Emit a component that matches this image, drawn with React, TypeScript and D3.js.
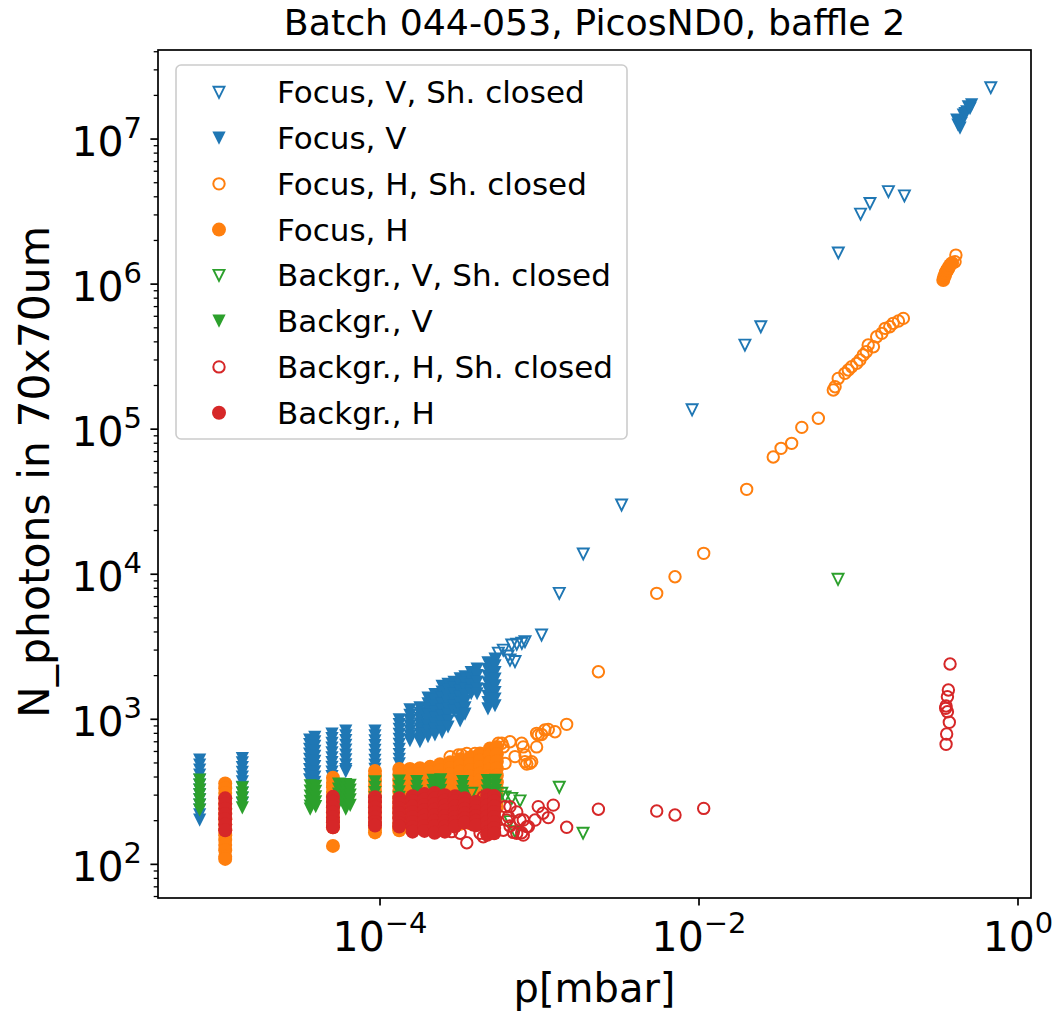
import * as d3 from "d3";

// ---- data: [pressure mbar, N photons]
type Col = [number, number[]];

// Focus, V, Sh. closed (open blue triangles)
const focusVClosed: [number, number][] = [
  [5.52e-4, 2860], [5.93e-4, 3000], [6.35e-4, 2730], [6.7e-4, 3250], [7.2e-4, 3290],
  [7.75e-4, 3340], [8.11e-4, 3430], [7.02e-4, 2500], [6.53e-4, 2560],
  [1.03e-3, 3810], [1.33e-3, 7380], [1.88e-3, 13800], [3.27e-3, 30000], [9.05e-3, 136000],
  [0.0194, 380000], [0.0244, 508000], [0.0747, 1.64e6], [0.103, 3.04e6], [0.118, 3.6e6],
  [0.154, 4.34e6], [0.194, 4.06e6], [0.675, 2.26e7],
];

// Focus, V (filled blue triangles), columns of repeated shots at one pressure
const focusVCols: Col[] = [
  [7.4e-6, [524, 484, 447, 413, 381, 352, 325, 301, 278, 256, 237, 219, 202]],
  [1.37e-5, [535, 500, 465, 430, 400, 370, 340, 310, 285, 262]],
  [3.62e-5, [720, 670, 620, 575, 530, 490, 450, 415, 382]],
  [3.9e-5, [750, 700, 650, 600, 555, 512, 472, 435, 400, 368]],
  [5.0e-5, [790, 735, 682, 632, 586, 543, 503, 466, 432, 402]],
  [6.1e-5, [830, 770, 712, 660, 612, 567, 525, 486, 450, 436]],
  [9.3e-5, [830, 768, 710, 658, 610, 565, 522, 484, 452]],
  [1.32e-4, [990, 920, 852, 788, 728, 672, 620, 572, 530, 492]],
  [1.54e-4, [1160, 1065, 980, 902, 832, 770, 712]],
  [1.78e-4, [1200, 1100, 1010, 930, 858, 792, 734, 700]],
  [2.0e-4, [1400, 1280, 1170, 1070, 980, 900, 825, 760]],
  [2.21e-4, [1480, 1350, 1230, 1120, 1020, 932, 852, 782]],
  [2.45e-4, [1690, 1540, 1400, 1272, 1155, 1052, 960, 880, 812]],
  [2.67e-4, [1740, 1582, 1435, 1302, 1182, 1072, 972, 885]],
  [2.91e-4, [1800, 1640, 1490, 1352, 1232, 1140]],
  [3.18e-4, [1900, 1722, 1562, 1420, 1290, 1172, 1062, 975]],
  [3.41e-4, [1960, 1780, 1612, 1462, 1322, 1200, 1085]],
  [3.73e-4, [2100, 1900, 1722, 1562, 1500]],
  [4.06e-4, [2220, 2000, 1802, 1622, 1500]],
  [4.75e-4, [2450, 2200, 1980, 1782, 1602, 1442, 1302, 1180]],
  [5.26e-4, [2600, 2340, 2100, 1890, 1700, 1530, 1380, 1240]],
  [0.413, [1.35e7]], [0.42, [1.25e7]], [0.433, [1.19e7]], [0.44, [1.28e7]],
  [0.454, [1.46e7]], [0.465, [1.5e7]], [0.477, [1.54e7]], [0.488, [1.67e7]],
  [0.5, [1.62e7]], [0.512, [1.72e7]],
];

// Focus, H, Sh. closed (open orange circles)
const focusHClosed: [number, number][] = [
  [2.75e-4, 552], [3.1e-4, 567], [3.25e-4, 567], [3.5e-4, 582], [3.67e-4, 402],
  [3.94e-4, 471], [3.94e-4, 582], [4.13e-4, 567], [4.24e-4, 426], [4.44e-4, 567],
  [5.52e-4, 683], [5.8e-4, 683], [5.93e-4, 645], [6.53e-4, 700], [6.08e-4, 497],
  [7.02e-4, 553], [7.73e-4, 683], [7.91e-4, 645], [8.11e-4, 510], [8.11e-4, 567],
  [8.72e-4, 497], [8.93e-4, 510], [8.32e-4, 491], [9.59e-4, 645], [9.82e-4, 779],
  [9.59e-4, 800], [1.03e-3, 786], [1.08e-3, 844], [1.135e-3, 852], [1.25e-3, 820],
  [1.48e-3, 923], [2.34e-3, 2128], [5.43e-3, 7385], [7.07e-3, 9610], [0.0107, 13930],
  [0.0199, 38470], [0.0292, 64260], [0.0327, 73770], [0.0381, 79850], [0.0441, 102900],
  [0.056, 118800], [0.0695, 186100], [0.0713, 196100], [0.0746, 223900], [0.0822, 242600],
  [0.0863, 255700], [0.0906, 269300], [0.0975, 284300], [0.102, 299600], [0.107, 324300],
  [0.112, 341900], [0.115, 380200], [0.124, 370000], [0.13, 433900], [0.14, 457800],
  [0.147, 495500], [0.157, 508200], [0.165, 536400], [0.178, 556400], [0.191, 580500],
  [0.403, 1.427e6], [0.408, 1.585e6],
];

// Focus, H (filled orange circles)
const focusHCols: Col[] = [
  [1.07e-5, [361, 335, 310, 285, 262, 242, 222, 205, 188, 172, 159, 147, 136, 125, 113, 109]],
  [5.07e-5, [395, 365, 340, 315, 290, 268, 248, 228, 210, 195, 180, 134]],
  [9.3e-5, [440, 405, 375, 345, 318, 292, 270, 248, 228, 210, 193, 178, 166]],
  [1.32e-4, [455, 415, 380, 348, 318, 292, 270, 248, 228, 210, 193, 180, 172]],
  [1.54e-4, [455, 415, 380, 350, 320, 295, 270, 248, 228, 210, 193, 178]],
  [1.78e-4, [460, 420, 385, 352, 322, 296, 272, 250, 230, 211, 194, 180]],
  [2.06e-4, [470, 430, 392, 358, 328, 300, 275, 252, 232, 213, 196, 175]],
  [2.38e-4, [490, 445, 405, 370, 338, 310, 283, 260, 238, 218, 200, 184]],
  [2.75e-4, [505, 460, 418, 380, 346, 316, 290, 265, 243, 222, 204, 187]],
  [3.18e-4, [530, 480, 435, 395, 360, 328, 300, 273, 250, 228, 208, 190]],
  [3.67e-4, [545, 492, 445, 403, 366, 333, 303, 276, 252, 230, 210, 192]],
  [4.24e-4, [580, 520, 468, 422, 382, 346, 314, 285, 260, 237, 216, 198]],
  [4.89e-4, [630, 565, 505, 452, 406, 366, 330, 298, 270, 245, 222, 202]],
  [5.4e-4, [645, 575, 512, 458, 410, 368, 332, 300, 272, 247]],
  [0.34, [1.067e6]], [0.344, [1.12e6]], [0.349, [1.155e6]], [0.352, [1.2e6]],
  [0.357, [1.23e6]], [0.362, [1.26e6]], [0.366, [1.29e6]], [0.375, [1.353e6]], [0.386, [1.396e6]],
];

// Backgr., V, Sh. closed (open green triangles)
const backgrVClosed: [number, number][] = [
  [0.0744, 9224], [1.33e-3, 340], [1.875e-3, 164], [7.55e-4, 274], [6.7e-4, 285],
  [6.08e-4, 292], [5.8e-4, 309], [7.02e-4, 168], [6.53e-4, 197], [3.76e-4, 309],
  [4.89e-4, 291], [5.33e-4, 278],
];

// Backgr., V (filled green triangles)
const backgrVCols: Col[] = [
  [7.4e-6, [381, 352, 325, 301, 278, 256, 237]],
  [1.37e-5, [337, 310, 287, 265, 245]],
  [3.65e-5, [347, 320, 295, 272, 252, 240]],
  [3.95e-5, [345, 318, 292, 270, 250]],
  [5.5e-5, [357, 330, 305, 282, 262]],
  [6.1e-5, [355, 328, 303, 280, 258, 240]],
  [6.5e-5, [350, 325, 300, 278, 255]],
  [9.3e-5, [370, 340, 312, 287, 262]],
  [1.32e-4, [375, 345, 316, 290, 268]],
  [1.7e-4, [372, 345, 318, 294, 272]],
  [2.15e-4, [380, 350, 322, 297, 275]],
  [2.4e-4, [382, 352, 324, 298, 276]],
  [3.3e-4, [372, 344, 318, 294, 273]],
  [4.7e-4, [378, 348, 320, 296, 274]],
  [5.3e-4, [380, 350, 322, 297, 276]],
];

// Backgr., H, Sh. closed (open red circles)
const backgrHClosed: [number, number][] = [
  [3.18e-4, 164], [3.5e-4, 141], [2.81e-4, 168], [3.85e-4, 187], [4.24e-4, 164],
  [4.44e-4, 292], [4.44e-4, 155], [2.95e-4, 202], [2.56e-4, 184], [3.27e-4, 244],
  [5.93e-4, 172], [6.08e-4, 250], [6.23e-4, 202], [6.38e-4, 213], [6.53e-4, 250],
  [6.53e-4, 184], [6.85e-4, 166], [7.2e-4, 230], [7.2e-4, 164], [7.55e-4, 202],
  [7.73e-4, 165], [7.91e-4, 202], [7.91e-4, 159], [8.32e-4, 182], [8.52e-4, 182],
  [9.37e-4, 202], [9.82e-4, 250], [1.05e-3, 225], [1.135e-3, 210], [1.22e-3, 256],
  [1.48e-3, 180], [2.34e-3, 240], [5.43e-3, 233], [7.07e-3, 219], [0.0107, 243],
  [0.375, 2404], [0.366, 1591], [0.361, 1430], [0.352, 1190], [0.361, 1127],
  [0.354, 1234], [0.371, 953], [0.357, 791], [0.354, 672],
];

// Backgr., H (filled red circles)
const backgrHCols: Col[] = [
  [1.07e-5, [285, 262, 242, 222, 205, 188, 172]],
  [5.07e-5, [292, 270, 248, 228, 210, 195, 180]],
  [9.3e-5, [290, 268, 247, 228, 210, 196, 185]],
  [1.32e-4, [286, 264, 243, 225, 208, 193, 182]],
  [1.6e-4, [295, 272, 250, 230, 212, 196, 180, 168]],
  [1.9e-4, [305, 280, 257, 236, 217, 200, 184, 170]],
  [2.2e-4, [310, 284, 260, 238, 218, 200, 184, 165]],
  [2.55e-4, [300, 276, 254, 234, 215, 198, 182, 168]],
  [2.95e-4, [295, 272, 250, 230, 212, 196, 182]],
  [3.4e-4, [285, 262, 242, 224, 208, 194]],
  [4.0e-4, [270, 250, 232, 215, 200, 186]],
  [4.7e-4, [300, 276, 254, 233, 214, 196, 180, 166, 160]],
  [5.2e-4, [296, 272, 250, 230, 212, 195, 178, 164]],
];

const seriesLabels = [
  "Focus, V, Sh. closed",
  "Focus, V",
  "Focus, H, Sh. closed",
  "Focus, H",
  "Backgr., V, Sh. closed",
  "Backgr., V",
  "Backgr., H, Sh. closed",
  "Backgr., H",
];
const seriesColors = ["#1f77b4", "#1f77b4", "#ff7f0e", "#ff7f0e", "#2ca02c", "#2ca02c", "#d62728", "#d62728"];
const seriesShapes = ["tri", "tri", "circ", "circ", "tri", "tri", "circ", "circ"];
const seriesFilled = [false, true, false, true, false, true, false, true];

const xTicks = [1e-4, 1e-2, 1];
const xTickExp = ["−4", "−2", "0"];
const yTicks = [1e2, 1e3, 1e4, 1e5, 1e6, 1e7];
const yTickExp = ["2", "3", "4", "5", "6", "7"];

const flat = (cols: Col[]): [number, number][] => cols.flatMap(([p, ns]) => ns.map((n) => [p, n] as [number, number]));

const FONT = "DejaVu Sans, Verdana, sans-serif";

function Marker({ shape, filled, color, cx, cy }: { shape: string; filled: boolean; color: string; cx: number; cy: number }) {
  if (shape === "circ") {
    return filled ? (
      <circle cx={cx} cy={cy} r={7} fill={color} />
    ) : (
      <circle cx={cx} cy={cy} r={5.7} fill="none" stroke={color} strokeWidth={2} />
    );
  }
  const h = filled ? 6.6 : 5.5;
  const d = `M${cx - h},${cy - h}L${cx + h},${cy - h}L${cx},${cy + h}Z`;
  return filled ? (
    <path d={d} fill={color} />
  ) : (
    <path d={d} fill="none" stroke={color} strokeWidth={1.9} strokeLinejoin="miter" />
  );
}

export default function App() {
  const L = 158, R = 1031, T = 50, B = 898;
  const x = d3.scaleLog().domain([Math.pow(10, -5.392), Math.pow(10, 0.0815)]).range([L, R]);
  const y = d3.scaleLog().domain([Math.pow(10, 1.768), Math.pow(10, 7.614)]).range([B, T]);

  const data: [number, number][][] = [
    focusVClosed,
    flat(focusVCols),
    focusHClosed,
    flat(focusHCols),
    backgrVClosed,
    flat(backgrVCols),
    backgrHClosed,
    flat(backgrHCols),
  ];

  const yMinor = y.ticks().filter((t) => {
    const l = Math.log10(t);
    return Math.abs(l - Math.round(l)) > 1e-6;
  });

  const legendRow0 = 92.3;
  const legendStep = 45.77;

  return (
    <svg width={1058} height={1013} style={{ position: "absolute", left: 0, top: 0, background: "#fff" }} fontFamily={FONT}>
      <rect x={0} y={0} width={1058} height={1013} fill="#fff" />

      {/* points */}
      <g>
        {data.map((pts, si) => (
          <g key={si}>
            {pts.map(([p, n], i) => (
              <Marker key={i} shape={seriesShapes[si]} filled={seriesFilled[si]} color={seriesColors[si]} cx={x(p)} cy={y(n)} />
            ))}
          </g>
        ))}
      </g>

      {/* frame */}
      <rect x={L} y={T} width={R - L} height={B - T} fill="none" stroke="#000" strokeWidth={1.7} />

      {/* y ticks */}
      {yMinor.map((t, i) => (
        <line key={"ym" + i} x1={L} x2={L - 4.3} y1={y(t)} y2={y(t)} stroke="#000" strokeWidth={1.3} />
      ))}
      {yTicks.map((t, i) => (
        <g key={"y" + i}>
          <line x1={L} x2={L - 7.6} y1={y(t)} y2={y(t)} stroke="#000" strokeWidth={1.7} />
          <text x={142} y={y(t) + 17} textAnchor="end" fontSize={41} fill="#000">
            <tspan>10</tspan>
            <tspan fontSize={29} dy={-18}>{yTickExp[i]}</tspan>
          </text>
        </g>
      ))}

      {/* x ticks */}
      {xTicks.map((t, i) => (
        <g key={"x" + i}>
          <line x1={x(t)} x2={x(t)} y1={B} y2={B + 7.6} stroke="#000" strokeWidth={1.7} />
          <text x={x(t)} y={951} textAnchor="middle" fontSize={41} fill="#000">
            <tspan>10</tspan>
            <tspan fontSize={29} dy={-18}>{xTickExp[i]}</tspan>
          </text>
        </g>
      ))}

      {/* labels */}
      <text x={(L + R) / 2} y={35} textAnchor="middle" fontSize={36.3} fill="#000">
        Batch 044-053, PicosND0, baffle 2
      </text>
      <text x={(L + R) / 2} y={1002} textAnchor="middle" fontSize={40} fill="#000">
        p[mbar]
      </text>
      <text transform={`translate(49,${(T + B) / 2 - 2}) rotate(-90)`} textAnchor="middle" fontSize={42.5} fill="#000">
        N_photons in 70x70um
      </text>

      {/* legend */}
      <rect x={176} y={65} width={451} height={374} rx={5} fill="#fff" fillOpacity={0.8} stroke="#cccccc" strokeWidth={1.6} />
      {seriesLabels.map((lab, i) => {
        const cy = legendRow0 + i * legendStep;
        return (
          <g key={"lg" + i}>
            <Marker shape={seriesShapes[i]} filled={seriesFilled[i]} color={seriesColors[i]} cx={219} cy={cy} />
            <text x={277} y={cy + 11} fontSize={31} fill="#000">
              {lab}
            </text>
          </g>
        );
      })}
    </svg>
  );
}
